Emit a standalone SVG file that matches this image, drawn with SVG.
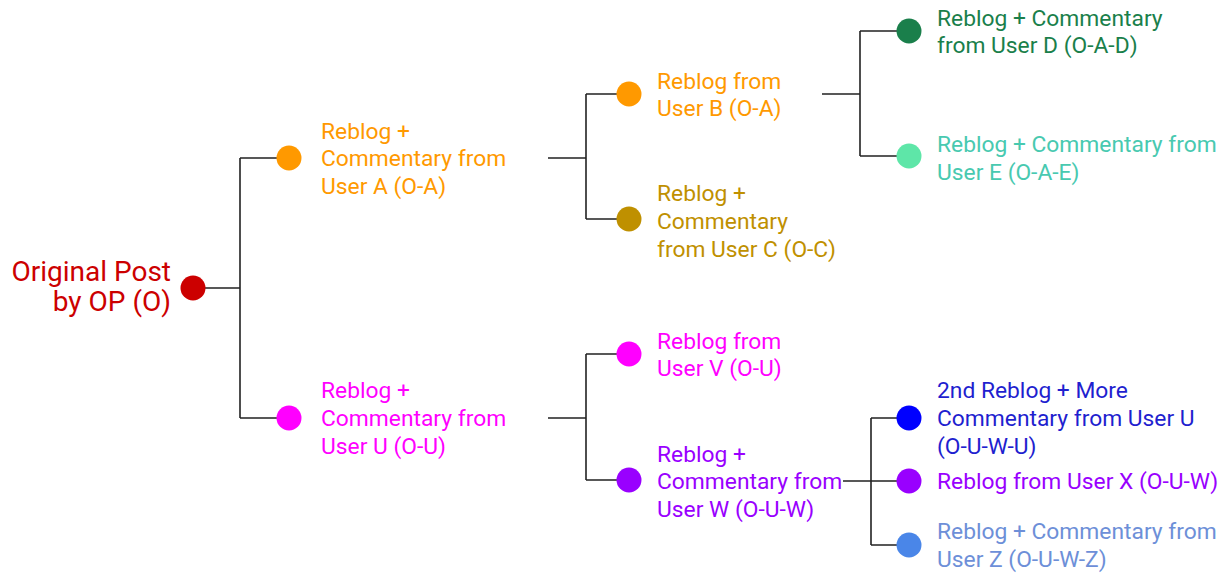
<svg xmlns="http://www.w3.org/2000/svg" width="1225" height="573" viewBox="0 0 1225 573">
<style>
text{font-family:Roboto,"Liberation Sans",sans-serif;font-size:22.8px}
.root{font-size:28px}
.ln{fill:none;stroke:#222;stroke-width:1.6}
</style>
<rect width="1225" height="573" fill="#fff"/>
<g id="connectors" class="ln">
<path d="M205 288H240M240 158V418M240 158H277M240 418H277"/>
<path d="M548 158H586M586 94V219M586 94H617M586 219H617"/>
<path d="M548 418H586M586 354V480M586 354H617M586 480H617"/>
<path d="M822 94H860M860 31V156M860 31H897M860 156H897"/>
<path d="M843 481H897M871 418V545M871 418H897M871 545H897"/>
</g>
<g id="node-O" fill="#cc0000"><circle cx="193" cy="288" r="12.5"/><text class="root" x="171" y="281" text-anchor="end">Original Post</text><text class="root" x="171" y="311" text-anchor="end">by OP (O)</text></g>
<g id="node-A" fill="#ff9900"><circle cx="289" cy="158" r="12.5"/><text x="321" y="139">Reblog +</text><text x="321" y="166">Commentary from</text><text x="321" y="194">User A (O-A)</text></g>
<g id="node-B" fill="#ff9900"><circle cx="629" cy="94" r="12.5"/><text x="657" y="89">Reblog from</text><text x="657" y="116">User B (O-A)</text></g>
<g id="node-C" fill="#bf9000"><circle cx="629" cy="219" r="12.5"/><text x="657" y="201">Reblog +</text><text x="657" y="229">Commentary</text><text x="657" y="257">from User C (O-C)</text></g>
<g id="node-D" fill="#1a7f4b"><circle cx="909" cy="31" r="12.5"/><text x="937" y="26">Reblog + Commentary</text><text x="937" y="53">from User D (O-A-D)</text></g>
<g id="node-E"><circle cx="909" cy="156" r="12.5" fill="#5ee6a8"/><g fill="#48c9b0"><text x="937" y="152">Reblog + Commentary from</text><text x="937" y="180">User E (O-A-E)</text></g></g>
<g id="node-U" fill="#ff00ff"><circle cx="289" cy="418" r="12.5"/><text x="321" y="398">Reblog +</text><text x="321" y="426">Commentary from</text><text x="321" y="454">User U (O-U)</text></g>
<g id="node-V" fill="#ff00ff"><circle cx="629" cy="354" r="12.5"/><text x="657" y="349">Reblog from</text><text x="657" y="376">User V (O-U)</text></g>
<g id="node-W" fill="#9900ff"><circle cx="629" cy="480" r="12.5"/><text x="657" y="462">Reblog +</text><text x="657" y="489">Commentary from</text><text x="657" y="517">User W (O-U-W)</text></g>
<g id="node-U2"><circle cx="909" cy="418" r="12.5" fill="#0000ff"/><g fill="#1f1fcf"><text x="937" y="398">2nd Reblog + More</text><text x="937" y="426">Commentary from User U</text><text x="937" y="454">(O-U-W-U)</text></g></g>
<g id="node-X" fill="#9900ff"><circle cx="909" cy="481" r="12.5"/><text x="937" y="489">Reblog from User X (O-U-W)</text></g>
<g id="node-Z"><circle cx="909" cy="545" r="12.5" fill="#4a86e8"/><g fill="#6d8fd8"><text x="937" y="539">Reblog + Commentary from</text><text x="937" y="567">User Z (O-U-W-Z)</text></g></g>
</svg>
